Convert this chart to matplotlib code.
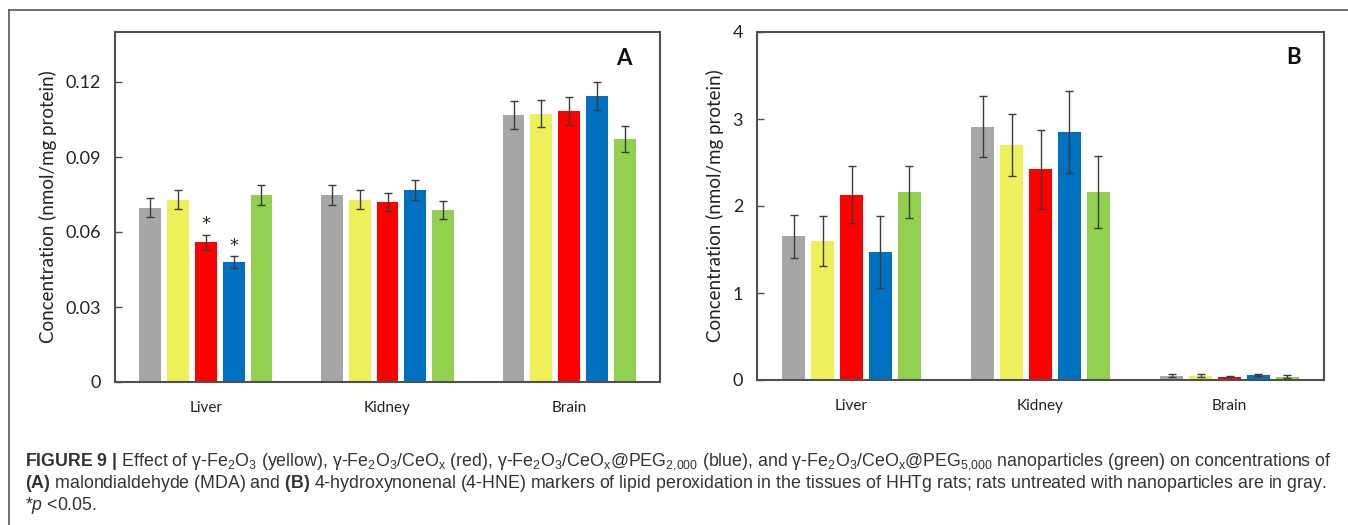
import numpy as np
import matplotlib
matplotlib.use("Agg")
import matplotlib.pyplot as plt
from matplotlib.lines import Line2D

# =========================
# Data
# =========================
tissues = ["Liver", "Kidney", "Brain"]
groups = ["Control", "Fe2O3", "Fe2O3/CeOx", "Fe2O3/CeOx@PEG2000", "Fe2O3/CeOx@PEG5000"]
colors = ["#A6A6A6", "#EEF05A", "#FF0000", "#0070C0", "#92D050"]

# MDA (panel A), one list per group: Liver, Kidney, Brain
mda_mean = [
    [0.0698, 0.0749, 0.1069],
    [0.0729, 0.0729, 0.1074],
    [0.0559, 0.0720, 0.1085],
    [0.0480, 0.0769, 0.1144],
    [0.0748, 0.0689, 0.0971],
]
mda_err = [
    [0.0038, 0.0039, 0.0056],
    [0.0038, 0.0038, 0.0055],
    [0.0030, 0.0037, 0.0056],
    [0.0024, 0.0039, 0.0057],
    [0.0040, 0.0036, 0.0051],
]
mda_sig = [
    [False, False, False],
    [False, False, False],
    [True, False, False],
    [True, False, False],
    [False, False, False],
]

# 4-HNE (panel B)
hne_mean = [
    [1.65, 2.91, 0.05],
    [1.60, 2.70, 0.05],
    [2.13, 2.42, 0.04],
    [1.47, 2.85, 0.06],
    [2.16, 2.16, 0.04],
]
hne_err = [
    [0.25, 0.35, 0.015],
    [0.29, 0.36, 0.015],
    [0.33, 0.45, 0.005],
    [0.41, 0.47, 0.012],
    [0.30, 0.41, 0.012],
]

caption_lines = [
    r"$\mathbf{FIGURE\ 9\ |}$ Effect of γ-Fe$_2$O$_3$ (yellow), γ-Fe$_2$O$_3$/CeO$_\mathrm{x}$ (red), "
    r"γ-Fe$_2$O$_3$/CeO$_\mathrm{x}$@PEG$_{2{,}000}$ (blue), and γ-Fe$_2$O$_3$/CeO$_\mathrm{x}$@PEG$_{5{,}000}$ "
    r"nanoparticles (green) on concentrations of",
    r"$\mathbf{(A)}$ malondialdehyde (MDA) and $\mathbf{(B)}$ 4-hydroxynonenal (4-HNE) markers of lipid "
    r"peroxidation in the tissues of HHTg rats; rats untreated with nanoparticles are in gray.",
    r"*$\mathit{p}$ <0.05.",
]

# =========================
# Style
# =========================
plt.rcParams["font.family"] = ["Lato", "DejaVu Sans"]
plt.rcParams["mathtext.fontset"] = "custom"
plt.rcParams["mathtext.rm"] = "Liberation Sans"
plt.rcParams["mathtext.it"] = "Liberation Sans:italic"
plt.rcParams["mathtext.bf"] = "Liberation Sans:bold"

W, H = 1348, 525
fig = plt.figure(figsize=(W / 100, H / 100), dpi=100)

x = np.arange(len(tissues))
step = 0.153
width = 0.12
spine_col = "#505050"
err_col = "#3C3C3C"


def draw_panel(ax, means, errs, ylim, yticks, yticklabels, letter, letter_pos, sig=None):
    for i, (m, e, c) in enumerate(zip(means, errs, colors)):
        pos = x + (i - 2) * step
        ax.bar(pos, m, width, color=c, zorder=2)
        ax.errorbar(pos, m, yerr=e, fmt="none", ecolor=err_col, elinewidth=1.0,
                    capsize=3, capthick=1.0, zorder=3)
        if sig is not None:
            for j in range(len(tissues)):
                if sig[i][j]:
                    ax.annotate("*", (pos[j], m[j] + e[j]), xytext=(0, 1),
                                textcoords="offset points", ha="center", va="bottom",
                                fontsize=13, family="DejaVu Sans", color="#222222")
    ax.set_xlim(-0.5, 2.5)
    ax.set_ylim(*ylim)
    ax.set_yticks(yticks)
    ax.set_yticklabels(yticklabels, fontsize=13, color="#222222")
    ax.set_xticks(x)
    ax.set_xticklabels(tissues, fontsize=11, color="#222222")
    ax.tick_params(axis="x", length=0, pad=14)
    ax.tick_params(axis="y", direction="in", length=5, width=1, color=spine_col, pad=10)
    for s in ax.spines.values():
        s.set_color(spine_col)
        s.set_linewidth(1.5)
    ax.set_ylabel("Concentration (nmol/mg protein)", fontsize=13.5, color="#222222", labelpad=6)
    ax.text(letter_pos[0], letter_pos[1], letter, transform=ax.transAxes, fontsize=16,
            fontweight="bold", ha="center", va="center", color="#111111")


axA = fig.add_axes([115 / W, (H - 382) / H, 545 / W, 350 / H])
draw_panel(axA, mda_mean, mda_err, (0, 0.14), [0, 0.03, 0.06, 0.09, 0.12],
           ["0", "0.03", "0.06", "0.09", "0.12"], "A", (0.934, 0.923), sig=mda_sig)

axB = fig.add_axes([757 / W, (H - 380) / H, 567 / W, 348 / H])
draw_panel(axB, hne_mean, hne_err, (0, 4), [0, 1, 2, 3, 4],
           ["0", "1", "2", "3", "4"], "B", (0.947, 0.928))

# outer frame (top and left edges)
fig.add_artist(Line2D([9 / W, 1.0], [(H - 10) / H, (H - 10) / H], color="#555555", lw=1.2))
fig.add_artist(Line2D([9 / W, 9 / W], [(H - 10) / H, 0.0], color="#555555", lw=1.2))

# caption
for k, line in enumerate(caption_lines):
    fig.text(25 / W, (H - 462 - 21.5 * k) / H, line, fontsize=12.8, family="Liberation Sans",
             color="#333333", ha="left", va="center")

fig.savefig("out.png", dpi=100)
